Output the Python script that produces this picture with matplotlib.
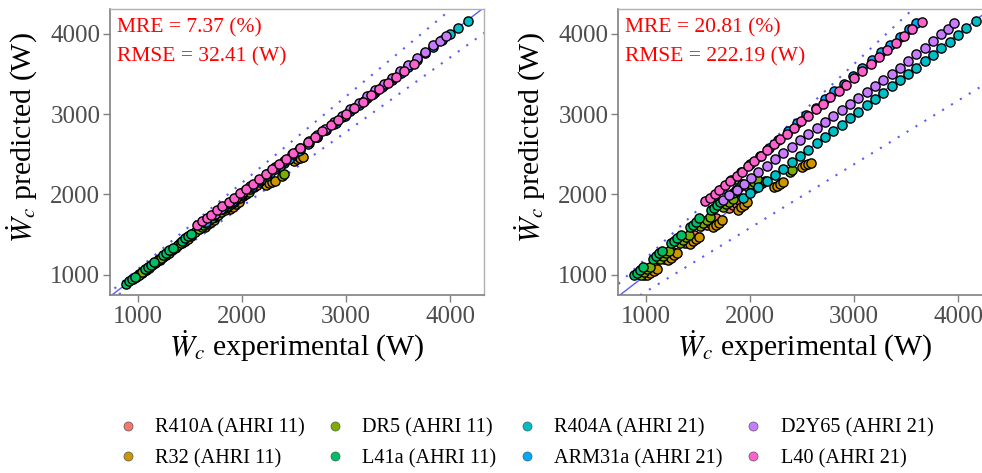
import matplotlib
matplotlib.use("Agg")
import matplotlib.pyplot as plt
from matplotlib.lines import Line2D

plt.rcParams["font.family"] = ["Liberation Serif", "DejaVu Serif"]
plt.rcParams["mathtext.fontset"] = "stix"

# -------------------------------
# Data: experimental power and predicted power (left model, right model)
# -------------------------------
labels = ["R410A (AHRI 11)", "R32 (AHRI 11)", "DR5 (AHRI 11)", "L41a (AHRI 11)",
          "R404A (AHRI 21)", "ARM31a (AHRI 21)", "D2Y65 (AHRI 21)", "L40 (AHRI 21)"]
colors = ["#F8766D", "#CD9600", "#7CAE00", "#00BE67",
          "#00BFC4", "#00A9FF", "#C77CFF", "#FF61CC"]

r410a_exp = [980, 1010, 1040, 1070, 1170, 1200, 1230, 1260, 1370, 1400, 1430, 1460,
             1580, 1610, 1640, 1670, 1800, 1830, 1860, 1890, 2050, 2080, 2110, 2140]
r410a_left = [972, 1003, 1032, 1061, 1160, 1192, 1221, 1250, 1358, 1390, 1420, 1448,
              1566, 1598, 1628, 1655, 1782, 1815, 1846, 1874, 2030, 2062, 2093, 2121]
r410a_right = [1000, 1030, 1060, 1090, 1195, 1225, 1255, 1285, 1400, 1430, 1460, 1490,
               1615, 1645, 1675, 1705, 1830, 1865, 1895, 1925, 2080, 2110, 2140, 2170]

r32_exp = [1010, 1040, 1070, 1100, 1210, 1240, 1270, 1300, 1420, 1450, 1480, 1510,
           1640, 1670, 1700, 1730, 1880, 1910, 1940, 1970, 2230, 2260, 2290, 2320,
           2500, 2530, 2560, 2590]
r32_left = [995, 1024, 1053, 1082, 1188, 1217, 1246, 1275, 1390, 1419, 1447, 1476,
            1598, 1627, 1655, 1683, 1820, 1848, 1876, 1903, 2120, 2140, 2155, 2170,
            2420, 2440, 2450, 2465]
r32_right = [990, 1015, 1045, 1075, 1180, 1210, 1240, 1270, 1385, 1415, 1445, 1475,
             1590, 1620, 1650, 1680, 1810, 1840, 1870, 1900, 2090, 2110, 2130, 2150,
             2340, 2360, 2375, 2395]

dr5_exp = [950, 980, 1010, 1040, 1130, 1160, 1190, 1220, 1320, 1350, 1380, 1410,
           1520, 1550, 1580, 1610, 1740, 1770, 1800, 1830, 1980, 2010, 2040, 2070,
           2380, 2400]
dr5_left = [945, 975, 1002, 1030, 1122, 1150, 1180, 1208, 1308, 1338, 1366, 1395,
            1505, 1535, 1563, 1592, 1718, 1748, 1776, 1805, 1950, 1980, 2008, 2036,
            2232, 2248]
dr5_right = [1000, 1035, 1070, 1100, 1200, 1235, 1265, 1300, 1400, 1435, 1465, 1500,
             1610, 1645, 1680, 1715, 1840, 1875, 1910, 1945, 2090, 2125, 2160, 2190,
             2280, 2300]

l41a_exp = [880, 910, 940, 970, 1060, 1090, 1120, 1150, 1240, 1270, 1300, 1330,
            1420, 1450, 1480, 1510, 1620, 1650, 1680, 1710, 1830, 1860, 1890, 1920]
l41a_left = [890, 918, 946, 975, 1068, 1096, 1124, 1152, 1246, 1274, 1302, 1330,
             1424, 1452, 1480, 1508, 1620, 1648, 1676, 1704, 1825, 1853, 1880, 1908]
l41a_right = [995, 1025, 1060, 1090, 1195, 1230, 1265, 1300, 1390, 1425, 1460, 1495,
              1590, 1625, 1660, 1700, 1800, 1835, 1870, 1905, 2020, 2055, 2090, 2125]

r404a_exp = [1930, 2000, 2080, 2160, 2240, 2320, 2400, 2480, 2560, 2640, 2720, 2800,
             2880, 2960, 3040, 3120, 3200, 3280, 3360, 3440, 3520, 3600, 3680, 3760,
             3840, 3920, 4000, 4080, 4170]
r404a_left = [1925, 1990, 2068, 2150, 2232, 2315, 2395, 2476, 2556, 2637, 2718, 2798,
              2878, 2958, 3038, 3118, 3198, 3278, 3358, 3438, 3518, 3598, 3678, 3758,
              3838, 3918, 3998, 4078, 4160]
r404a_right = [1955, 2015, 2090, 2165, 2245, 2320, 2400, 2480, 2555, 2635, 2715, 2795,
               2870, 2950, 3030, 3110, 3185, 3265, 3345, 3420, 3500, 3580, 3660, 3740,
               3820, 3900, 3980, 4070, 4165]

arm31a_exp = [1650, 1730, 1820, 1910, 2000, 2090, 2180, 2270, 2360, 2450, 2540, 2630,
              2720, 2810, 2900, 2990, 3080, 3170, 3260, 3350, 3440, 3530, 3600]
arm31a_left = [1660, 1740, 1825, 1915, 2005, 2090, 2180, 2270, 2355, 2445, 2535, 2625,
               2710, 2800, 2890, 2980, 3070, 3160, 3250, 3340, 3430, 3515, 3590]
arm31a_right = [1980, 2073, 2175, 2277, 2380, 2481, 2583, 2683, 2785, 2884, 2985, 3082,
                3182, 3282, 3379, 3477, 3573, 3671, 3769, 3866, 3963, 4060, 4133]

d2y65_exp = [1740, 1800, 1870, 1940, 2010, 2080, 2160, 2240, 2320, 2400, 2480, 2560,
             2640, 2720, 2800, 2880, 2960, 3040, 3120, 3200, 3280, 3360, 3440, 3520,
             3600, 3680, 3760, 3840, 3900, 3960]
d2y65_left = [1760, 1820, 1890, 1960, 2030, 2100, 2180, 2260, 2340, 2420, 2500, 2580,
              2660, 2740, 2820, 2900, 2980, 3060, 3140, 3220, 3300, 3380, 3455, 3535,
              3615, 3695, 3775, 3855, 3915, 3975]
d2y65_right = [1928, 1989, 2061, 2132, 2203, 2273, 2354, 2435, 2515, 2594, 2673, 2749,
               2825, 2900, 2974, 3047, 3123, 3198, 3273, 3347, 3424, 3501, 3578, 3661,
               3744, 3827, 3910, 3994, 4056, 4138]

l40_exp = [1570, 1610, 1660, 1700, 1760, 1810, 1870, 1920, 1980, 2040, 2100, 2160,
           2230, 2290, 2350, 2420, 2490, 2560, 2630, 2700, 2770, 2850, 2920, 3000,
           3080, 3160, 3240, 3320, 3400, 3480, 3560, 3650]
l40_left = [1620, 1665, 1700, 1745, 1800, 1850, 1905, 1955, 2015, 2070, 2130, 2190,
            2255, 2315, 2375, 2445, 2510, 2580, 2650, 2720, 2785, 2860, 2930, 3005,
            3080, 3155, 3235, 3310, 3385, 3460, 3540, 3625]
l40_right = [1915, 1956, 2009, 2049, 2112, 2168, 2235, 2285, 2352, 2417, 2482, 2549,
             2627, 2691, 2754, 2831, 2908, 2982, 3059, 3132, 3208, 3292, 3367, 3450,
             3539, 3625, 3713, 3801, 3886, 3971, 4055, 4150]

exp_sets = [r410a_exp, r32_exp, dr5_exp, l41a_exp, r404a_exp, arm31a_exp, d2y65_exp, l40_exp]
left_sets = [r410a_left, r32_left, dr5_left, l41a_left, r404a_left, arm31a_left, d2y65_left, l40_left]
right_sets = [r410a_right, r32_right, dr5_right, l41a_right, r404a_right, arm31a_right,
              d2y65_right, l40_right]

mre_vals = [7.37, 20.81]
rmse_vals = [32.41, 222.19]

# -------------------------------
# Figure
# -------------------------------
fig = plt.figure(figsize=(9.82, 4.73), dpi=100)
ax_l = fig.add_axes([110 / 982, 0.3763, 374 / 982, 0.604])
ax_r = fig.add_axes([618 / 982, 0.3763, 374 / 982, 0.604])

lims_x = (728, 4327)
lims_y = (747, 4305)
line_col = "#5a5aff"

for ax, preds, mre, rmse in [(ax_l, left_sets, mre_vals[0], rmse_vals[0]),
                             (ax_r, right_sets, mre_vals[1], rmse_vals[1])]:
    # identity and +/- MRE bands
    xx = [0, 5000]
    ax.plot(xx, xx, color=line_col, lw=1.0, zorder=1)
    ax.plot(xx, [v * (1 + mre / 100) for v in xx], color=line_col, lw=1.5,
            ls=(0, (1, 4)), zorder=1)
    ax.plot(xx, [v * (1 - mre / 100) for v in xx], color=line_col, lw=1.5,
            ls=(0, (1, 4)), zorder=1)

    for ex, pr, c in zip(exp_sets, preds, colors):
        ax.scatter(ex, pr, s=44, color=c, edgecolor="black", linewidth=1.0, zorder=3)

    ax.set_xlim(*lims_x)
    ax.set_ylim(*lims_y)
    ax.set_xticks([1000, 2000, 3000, 4000])
    ax.set_yticks([1000, 2000, 3000, 4000])
    ax.tick_params(length=5, width=1, color="#808080", labelsize=18,
                   labelcolor="#4d4d4d")
    ax.tick_params(axis="x", pad=3)
    ax.tick_params(axis="y", pad=2)
    for side in ["left", "bottom"]:
        ax.spines[side].set_color("#808080")
        ax.spines[side].set_linewidth(1.2)
    for side in ["top", "right"]:
        ax.spines[side].set_color("#b0b0b0")
        ax.spines[side].set_linewidth(1.0)

    ax.set_xlabel(r"$\dot{W}_c$ experimental (W)", fontsize=21.5, labelpad=0)
    ax.set_ylabel(r"$\dot{W}_c$ predicted (W)", fontsize=21.5)
    ax.yaxis.set_label_coords(-0.186, 0.55)

    ax.text(0.02, 0.935, f"MRE = {mre:.2f} (%)", transform=ax.transAxes,
            color="red", fontsize=15.5, ha="left", va="center")
    ax.text(0.02, 0.835, f"RMSE = {rmse:.2f} (W)", transform=ax.transAxes,
            color="red", fontsize=15.5, ha="left", va="center")

# legend below both panels
handles = [Line2D([], [], ls="none", marker="o", markersize=6.5, markerfacecolor=c,
                  markeredgecolor="#555555", markeredgewidth=0.5) for c in colors]
fig.legend(handles, labels, loc="center", bbox_to_anchor=(0.535, 0.063), ncol=4,
           frameon=False, fontsize=14.6, handletextpad=0.85, columnspacing=1.0,
           labelspacing=0.55, handlelength=1.0)

fig.savefig("out.png", dpi=100)
